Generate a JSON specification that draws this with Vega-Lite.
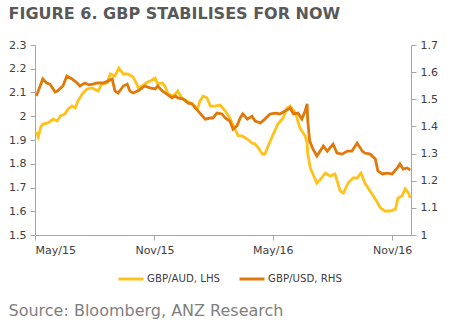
{
  "$schema": "https://vega.github.io/schema/vega-lite/v6.json",
  "padding": {"left": 8, "top": 6, "right": 5, "bottom": 5},
  "background": "white",
  "title": {"text": "Source: Bloomberg, ANZ Research", "orient": "bottom", "anchor": "start", "font": "DejaVu Sans", "fontSize": 16, "fontWeight": "normal", "color": "#7f7f7f", "offset": 18},
  "datasets": {
    "aud": [
      {"date": "2015-05-03", "value": 1.934}, {"date": "2015-05-06", "value": 1.913}, {"date": "2015-05-10", "value": 1.955}, {"date": "2015-05-13", "value": 1.967},
      {"date": "2015-05-21", "value": 1.972}, {"date": "2015-05-29", "value": 1.988}, {"date": "2015-06-04", "value": 1.980}, {"date": "2015-06-09", "value": 2.001},
      {"date": "2015-06-16", "value": 2.009}, {"date": "2015-06-21", "value": 2.031}, {"date": "2015-06-27", "value": 2.043}, {"date": "2015-07-02", "value": 2.035},
      {"date": "2015-07-06", "value": 2.064}, {"date": "2015-07-14", "value": 2.098}, {"date": "2015-07-20", "value": 2.115}, {"date": "2015-07-28", "value": 2.119},
      {"date": "2015-08-06", "value": 2.106}, {"date": "2015-08-12", "value": 2.136}, {"date": "2015-08-20", "value": 2.140}, {"date": "2015-08-25", "value": 2.178},
      {"date": "2015-09-01", "value": 2.169}, {"date": "2015-09-07", "value": 2.203}, {"date": "2015-09-14", "value": 2.178}, {"date": "2015-09-21", "value": 2.178},
      {"date": "2015-09-29", "value": 2.165}, {"date": "2015-10-04", "value": 2.140}, {"date": "2015-10-07", "value": 2.119}, {"date": "2015-10-13", "value": 2.127},
      {"date": "2015-10-17", "value": 2.136}, {"date": "2015-10-25", "value": 2.148}, {"date": "2015-11-02", "value": 2.161}, {"date": "2015-11-06", "value": 2.136},
      {"date": "2015-11-13", "value": 2.140}, {"date": "2015-11-17", "value": 2.127}, {"date": "2015-11-22", "value": 2.094}, {"date": "2015-11-30", "value": 2.085},
      {"date": "2015-12-07", "value": 2.106}, {"date": "2015-12-13", "value": 2.077}, {"date": "2015-12-21", "value": 2.064}, {"date": "2015-12-29", "value": 2.052},
      {"date": "2016-01-06", "value": 2.031}, {"date": "2016-01-10", "value": 2.064}, {"date": "2016-01-15", "value": 2.085}, {"date": "2016-01-21", "value": 2.077},
      {"date": "2016-01-26", "value": 2.043}, {"date": "2016-02-02", "value": 2.043}, {"date": "2016-02-10", "value": 2.047}, {"date": "2016-02-18", "value": 2.022},
      {"date": "2016-02-25", "value": 1.993}, {"date": "2016-03-04", "value": 1.946}, {"date": "2016-03-09", "value": 1.917}, {"date": "2016-03-15", "value": 1.917},
      {"date": "2016-03-23", "value": 1.904}, {"date": "2016-03-30", "value": 1.887}, {"date": "2016-04-04", "value": 1.883}, {"date": "2016-04-09", "value": 1.866},
      {"date": "2016-04-15", "value": 1.841}, {"date": "2016-04-19", "value": 1.841}, {"date": "2016-04-24", "value": 1.875}, {"date": "2016-05-02", "value": 1.925},
      {"date": "2016-05-09", "value": 1.967}, {"date": "2016-05-17", "value": 1.993}, {"date": "2016-05-23", "value": 2.035}, {"date": "2016-05-28", "value": 2.043},
      {"date": "2016-06-05", "value": 2.014}, {"date": "2016-06-12", "value": 1.951}, {"date": "2016-06-20", "value": 1.917}, {"date": "2016-06-23", "value": 1.887},
      {"date": "2016-06-24", "value": 1.841}, {"date": "2016-06-28", "value": 1.782}, {"date": "2016-07-08", "value": 1.719}, {"date": "2016-07-13", "value": 1.732},
      {"date": "2016-07-21", "value": 1.761}, {"date": "2016-07-29", "value": 1.748}, {"date": "2016-08-05", "value": 1.757}, {"date": "2016-08-13", "value": 1.685},
      {"date": "2016-08-18", "value": 1.677}, {"date": "2016-08-25", "value": 1.719}, {"date": "2016-09-02", "value": 1.740}, {"date": "2016-09-08", "value": 1.740},
      {"date": "2016-09-14", "value": 1.761}, {"date": "2016-09-20", "value": 1.719}, {"date": "2016-09-28", "value": 1.685}, {"date": "2016-10-06", "value": 1.652},
      {"date": "2016-10-14", "value": 1.614}, {"date": "2016-10-21", "value": 1.601}, {"date": "2016-10-29", "value": 1.601}, {"date": "2016-11-06", "value": 1.609},
      {"date": "2016-11-10", "value": 1.656}, {"date": "2016-11-16", "value": 1.664}, {"date": "2016-11-21", "value": 1.694}, {"date": "2016-11-26", "value": 1.677},
      {"date": "2016-11-29", "value": 1.656}
    ],
    "usd": [
      {"date": "2015-05-03", "value": 1.512}, {"date": "2015-05-09", "value": 1.549}, {"date": "2015-05-13", "value": 1.575}, {"date": "2015-05-19", "value": 1.560},
      {"date": "2015-05-24", "value": 1.556}, {"date": "2015-06-01", "value": 1.527}, {"date": "2015-06-05", "value": 1.531}, {"date": "2015-06-13", "value": 1.549},
      {"date": "2015-06-19", "value": 1.586}, {"date": "2015-06-27", "value": 1.575}, {"date": "2015-07-05", "value": 1.560}, {"date": "2015-07-09", "value": 1.549},
      {"date": "2015-07-17", "value": 1.560}, {"date": "2015-07-23", "value": 1.553}, {"date": "2015-07-29", "value": 1.556}, {"date": "2015-08-05", "value": 1.560},
      {"date": "2015-08-14", "value": 1.560}, {"date": "2015-08-21", "value": 1.567}, {"date": "2015-08-28", "value": 1.575}, {"date": "2015-09-01", "value": 1.531},
      {"date": "2015-09-06", "value": 1.523}, {"date": "2015-09-14", "value": 1.549}, {"date": "2015-09-20", "value": 1.556}, {"date": "2015-09-24", "value": 1.531},
      {"date": "2015-09-29", "value": 1.523}, {"date": "2015-10-07", "value": 1.531}, {"date": "2015-10-13", "value": 1.542}, {"date": "2015-10-17", "value": 1.549},
      {"date": "2015-10-25", "value": 1.542}, {"date": "2015-11-02", "value": 1.538}, {"date": "2015-11-06", "value": 1.549}, {"date": "2015-11-13", "value": 1.531},
      {"date": "2015-11-20", "value": 1.519}, {"date": "2015-11-28", "value": 1.505}, {"date": "2015-12-03", "value": 1.512}, {"date": "2015-12-07", "value": 1.505},
      {"date": "2015-12-15", "value": 1.501}, {"date": "2015-12-23", "value": 1.486}, {"date": "2015-12-29", "value": 1.483}, {"date": "2016-01-03", "value": 1.468},
      {"date": "2016-01-10", "value": 1.449}, {"date": "2016-01-18", "value": 1.427}, {"date": "2016-01-26", "value": 1.431}, {"date": "2016-01-30", "value": 1.431},
      {"date": "2016-02-05", "value": 1.449}, {"date": "2016-02-13", "value": 1.446}, {"date": "2016-02-18", "value": 1.431}, {"date": "2016-02-25", "value": 1.420},
      {"date": "2016-03-01", "value": 1.390}, {"date": "2016-03-07", "value": 1.402}, {"date": "2016-03-12", "value": 1.431}, {"date": "2016-03-16", "value": 1.446},
      {"date": "2016-03-23", "value": 1.427}, {"date": "2016-03-30", "value": 1.438}, {"date": "2016-04-04", "value": 1.420}, {"date": "2016-04-12", "value": 1.413},
      {"date": "2016-04-19", "value": 1.427}, {"date": "2016-04-27", "value": 1.446}, {"date": "2016-05-05", "value": 1.449}, {"date": "2016-05-12", "value": 1.446},
      {"date": "2016-05-20", "value": 1.457}, {"date": "2016-05-28", "value": 1.468}, {"date": "2016-06-02", "value": 1.446}, {"date": "2016-06-09", "value": 1.449},
      {"date": "2016-06-15", "value": 1.427}, {"date": "2016-06-20", "value": 1.457}, {"date": "2016-06-23", "value": 1.483}, {"date": "2016-06-24", "value": 1.420},
      {"date": "2016-06-27", "value": 1.346}, {"date": "2016-07-02", "value": 1.317}, {"date": "2016-07-08", "value": 1.291}, {"date": "2016-07-13", "value": 1.309},
      {"date": "2016-07-18", "value": 1.328}, {"date": "2016-07-24", "value": 1.309}, {"date": "2016-08-02", "value": 1.335}, {"date": "2016-08-08", "value": 1.302},
      {"date": "2016-08-16", "value": 1.298}, {"date": "2016-08-24", "value": 1.309}, {"date": "2016-08-31", "value": 1.309}, {"date": "2016-09-08", "value": 1.339},
      {"date": "2016-09-16", "value": 1.309}, {"date": "2016-09-20", "value": 1.302}, {"date": "2016-09-28", "value": 1.298}, {"date": "2016-10-06", "value": 1.280},
      {"date": "2016-10-10", "value": 1.236}, {"date": "2016-10-17", "value": 1.225}, {"date": "2016-10-24", "value": 1.228}, {"date": "2016-11-01", "value": 1.225},
      {"date": "2016-11-09", "value": 1.247}, {"date": "2016-11-13", "value": 1.262}, {"date": "2016-11-18", "value": 1.243}, {"date": "2016-11-24", "value": 1.247},
      {"date": "2016-11-29", "value": 1.239}
    ]
  },
  "config": {
    "view": {"stroke": null},
    "font": "DejaVu Sans",
    "axis": {"labelFont": "DejaVu Sans", "labelFontSize": 11, "labelColor": "#404040", "domainColor": "#a6a6a6", "tickColor": "#a6a6a6", "grid": false, "title": null, "tickSize": 5, "labelPadding": 4},
    "legend": {"labelFont": "DejaVu Sans", "labelFontSize": 10.2, "labelColor": "#404040"}
  },
  "vconcat": [
    {
      "title": {"text": "FIGURE 6. GBP STABILISES FOR NOW", "anchor": "start", "font": "DejaVu Sans", "fontSize": 16, "fontWeight": "bold", "color": "#595959", "offset": 17, "frame": "bounds"},
      "width": 376,
      "height": 190,
      "layer": [
        {
          "data": {"name": "aud"},
          "mark": {"type": "line", "strokeWidth": 2.8, "interpolate": "linear"},
          "encoding": {
            "x": {"field": "date", "type": "temporal", "scale": {"domain": [{"year": 2015, "month": 5, "date": 1}, {"year": 2016, "month": 11, "date": 30}]},
                  "axis": {"values": [{"year": 2015, "month": 5, "date": 1}, {"year": 2015, "month": 11, "date": 1}, {"year": 2016, "month": 5, "date": 1}, {"year": 2016, "month": 11, "date": 1}], "format": "%b/%y", "labelPadding": 4}},
            "y": {"field": "value", "type": "quantitative", "scale": {"domain": [1.5, 2.3], "zero": false, "nice": false},
                  "axis": {"orient": "left", "values": [1.5, 1.6, 1.7, 1.8, 1.9, 2.0, 2.1, 2.2, 2.3], "format": ".1~f"}},
            "color": {"datum": "GBP/AUD, LHS", "type": "nominal", "scale": {"domain": ["GBP/AUD, LHS", "GBP/USD, RHS"], "range": ["#FFC21A", "#E0780A"]},
                      "legend": {"orient": "none", "legendX": 82, "legendY": 220, "direction": "horizontal", "title": null, "symbolType": "stroke", "symbolSize": 625, "symbolStrokeWidth": 3, "columnPadding": 12, "labelOffset": 2}}
          }
        },
        {
          "data": {"name": "usd"},
          "mark": {"type": "line", "strokeWidth": 2.8, "interpolate": "linear"},
          "encoding": {
            "x": {"field": "date", "type": "temporal"},
            "y": {"field": "value", "type": "quantitative", "scale": {"domain": [1.0, 1.7], "zero": false, "nice": false},
                  "axis": {"orient": "right", "values": [1.0, 1.1, 1.2, 1.3, 1.4, 1.5, 1.6, 1.7], "format": ".1~f"}},
            "color": {"datum": "GBP/USD, RHS", "type": "nominal"}
          }
        }
      ],
      "resolve": {"scale": {"y": "independent"}}
    }
  ]
}
